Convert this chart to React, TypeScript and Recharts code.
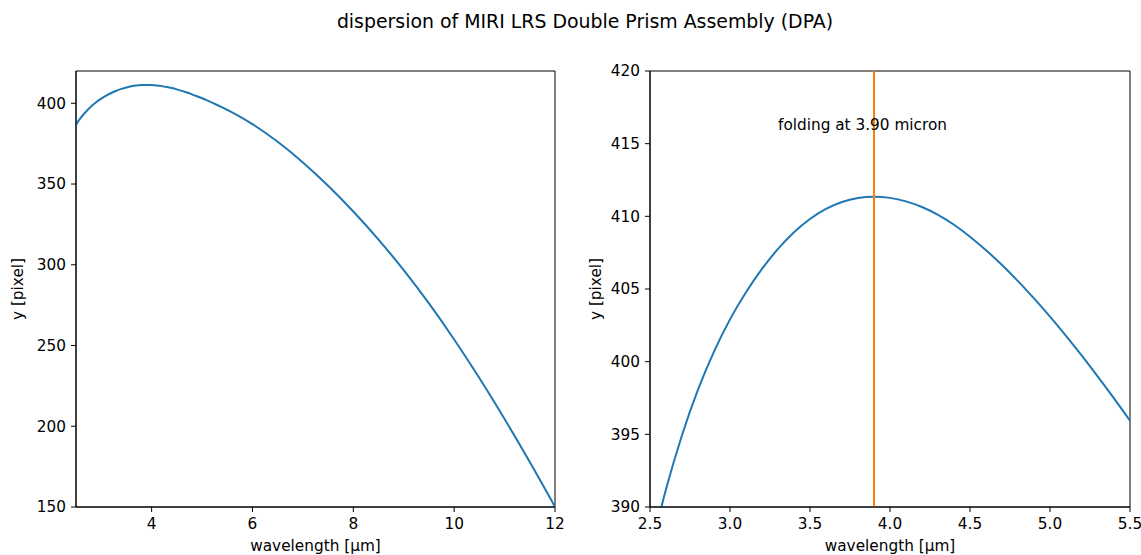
import React from 'react';
import {
  LineChart,
  Line,
  XAxis,
  YAxis,
  ReferenceLine,
  ReferenceArea,
  ReferenceDot,
} from 'recharts';

// wavelength in micron and the matching detector row (y pixel)
const wavelength = [
  2.5, 2.6, 2.7, 2.8, 2.9, 3.0, 3.1, 3.2, 3.3, 3.4, 3.5, 3.6, 3.7, 3.8, 3.9,
  4.0, 4.1, 4.2, 4.3, 4.4, 4.5, 4.6, 4.7, 4.8, 4.9, 5.0, 5.1, 5.2, 5.3, 5.4,
  5.5, 5.75, 6.0, 6.5, 7.0, 7.5, 8.0, 8.5, 9.0, 9.5, 10.0, 10.5, 11.0, 11.5,
  12.0,
];
const yPixel = [
  386.79, 391.22, 394.94, 398.07, 400.69, 402.91, 404.78, 406.38, 407.76,
  408.91, 409.82, 410.51, 410.99, 411.26, 411.35, 411.27, 411.03, 410.64,
  410.1, 409.42, 408.6, 407.67, 406.65, 405.54, 404.35, 403.1, 401.78,
  400.4, 398.96, 397.48, 395.94, 391.78, 387.08, 376.15, 363.37, 348.94,
  333.01, 315.61, 296.66, 276.06, 253.76, 229.83, 204.45, 177.82, 150.09,
];

const foldingWavelength = 3.9;
const foldingText = 'folding at 3.90 micron';
const foldingTextAt = { x: 3.3, y: 416 };

const fullXTicks = [4, 6, 8, 10, 12];
const fullYTicks = [150, 200, 250, 300, 350, 400];
const zoomXTicks = [2.5, 3.0, 3.5, 4.0, 4.5, 5.0, 5.5];
const zoomYTicks = [390, 395, 400, 405, 410, 415, 420];

const data = wavelength.map((w, i) => ({ w, y: yPixel[i] }));

const FONT = "'DejaVu Sans', sans-serif";
const FS = 15.3;
const BLUE = '#1f77b4';
const ORANGE = '#ff7f0e';

interface PanelProps {
  width: number;
  marginLeft: number;
  marginRight: number;
  xDomain: [number, number];
  yDomain: [number, number];
  xTicks: number[];
  yTicks: number[];
  xFormat?: (v: number) => string;
  labelDx: number;
  children?: React.ReactNode;
}

function Panel({
  width,
  marginLeft,
  marginRight,
  xDomain,
  yDomain,
  xTicks,
  yTicks,
  xFormat,
  labelDx,
  children,
}: PanelProps) {
  const tickStyle = { fill: '#000', fontSize: FS, fontFamily: FONT };
  return (
    <LineChart
      width={width}
      height={555}
      data={data}
      margin={{ top: 71, right: marginRight, bottom: 0, left: marginLeft }}
    >
      <ReferenceArea
        x1={xDomain[0]}
        x2={xDomain[1]}
        y1={yDomain[0]}
        y2={yDomain[1]}
        fill="none"
        stroke="#000"
        strokeWidth={1}
        fillOpacity={0}
      />
      <XAxis
        type="number"
        dataKey="w"
        domain={xDomain}
        allowDataOverflow
        ticks={xTicks}
        tickFormatter={xFormat}
        height={48}
        tickSize={5}
        tickMargin={6}
        axisLine={{ stroke: '#000' }}
        tickLine={{ stroke: '#000' }}
        tick={tickStyle}
        label={{
          value: 'wavelength [μm]',
          position: 'insideBottom',
          offset: 4,
          fill: '#000',
          fontSize: FS,
          fontFamily: FONT,
        }}
      />
      <YAxis
        type="number"
        domain={yDomain}
        allowDataOverflow
        ticks={yTicks}
        width={60}
        tickSize={5}
        tickMargin={5}
        axisLine={{ stroke: '#000' }}
        tickLine={{ stroke: '#000' }}
        tick={tickStyle}
        label={{
          value: 'y [pixel]',
          angle: -90,
          position: 'center',
          dx: labelDx,
          fill: '#000',
          fontSize: FS,
          fontFamily: FONT,
        }}
      />
      <Line
        type="monotone"
        dataKey="y"
        stroke={BLUE}
        strokeWidth={2}
        dot={false}
        isAnimationActive={false}
      />
      {children}
    </LineChart>
  );
}

export default function App() {
  return (
    <div
      style={{
        position: 'absolute',
        left: 0,
        top: 0,
        width: 1141,
        height: 555,
        background: '#fff',
        fontFamily: FONT,
      }}
    >
      <div
        style={{
          position: 'absolute',
          left: 285,
          width: 600,
          top: 10,
          fontSize: 18.9,
          whiteSpace: 'nowrap',
          display: 'flex',
          justifyContent: 'center',
        }}
      >
        <span>dispersion of MIRI LRS Double Prism Assembly (DPA)</span>
      </div>
      <div style={{ position: 'absolute', left: 0, top: 0 }}>
        <Panel
          width={570}
          marginLeft={16}
          marginRight={15}
          xDomain={[2.5, 12]}
          yDomain={[150, 420]}
          xTicks={fullXTicks}
          yTicks={fullYTicks}
          labelDx={-28}
        />
      </div>
      <div style={{ position: 'absolute', left: 570, top: 0 }}>
        <Panel
          width={571}
          marginLeft={20}
          marginRight={11}
          xDomain={[2.5, 5.5]}
          yDomain={[390, 420]}
          xTicks={zoomXTicks}
          yTicks={zoomYTicks}
          xFormat={(v) => v.toFixed(1)}
          labelDx={-24}
        >
          <ReferenceLine
            x={foldingWavelength}
            stroke={ORANGE}
            strokeWidth={2}
          />
          <ReferenceDot
            x={foldingTextAt.x}
            y={foldingTextAt.y}
            r={0}
            fill="none"
            stroke="none"
            label={{
              value: foldingText,
              position: 'right',
              offset: 0,
              dy: -5,
              fill: '#000',
              fontSize: FS,
              fontFamily: FONT,
            }}
          />
        </Panel>
      </div>
    </div>
  );
}
